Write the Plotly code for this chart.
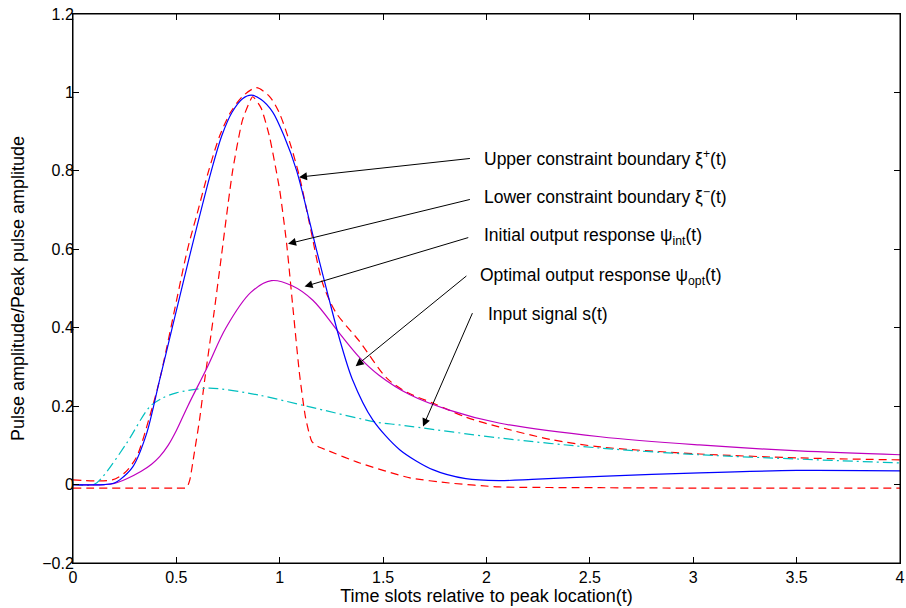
import plotly.graph_objects as go

# ---- data ----
t_opt = [0, 0.15, 0.2, 0.226, 0.289, 0.356, 0.419, 0.48, 0.572, 0.669, 0.72, 0.77, 0.82, 0.862, 0.91, 0.966, 1.02, 1.082, 1.177, 1.235, 1.29, 1.35, 1.45, 1.58, 1.74, 1.9, 2.06, 2.22, 2.55, 3.03, 3.5, 4.0]
y_opt = [0, 0.0, 0.004, 0.012, 0.045, 0.13, 0.267, 0.40, 0.60, 0.80, 0.89, 0.95, 0.984, 0.993, 0.982, 0.95, 0.89, 0.80, 0.60, 0.48, 0.37, 0.27, 0.165, 0.089, 0.038, 0.015, 0.010, 0.013, 0.021, 0.030, 0.036, 0.035]

t_int = [0, 0.15, 0.2, 0.26, 0.33, 0.38, 0.42, 0.46, 0.50, 0.555, 0.65, 0.74, 0.86, 0.96, 1.06, 1.16, 1.29, 1.39, 1.48, 1.63, 1.82, 2.06, 2.55, 3.03, 3.51, 4.0]
y_int = [0, 0.0, 0.003, 0.015, 0.034, 0.052, 0.072, 0.10, 0.138, 0.20, 0.30, 0.40, 0.49, 0.52, 0.507, 0.47, 0.385, 0.322, 0.279, 0.229, 0.19, 0.157, 0.122, 0.101, 0.086, 0.076]

t_in = [0, 0.1, 0.144, 0.26, 0.37, 0.43, 0.50, 0.66, 0.90, 1.13, 1.47, 1.58, 2.06, 2.55, 3.03, 3.51, 4.0]
y_in = [0, 0.0, 0.02, 0.106, 0.198, 0.22, 0.234, 0.246, 0.228, 0.20, 0.159, 0.152, 0.119, 0.093, 0.076, 0.065, 0.055]

t_up = [0, 0.19, 0.25, 0.307, 0.37, 0.419, 0.554, 0.60, 0.656, 0.71, 0.763, 0.82, 0.887, 0.95, 0.996, 1.05, 1.096, 1.15, 1.207, 1.27, 1.386, 1.52, 1.62, 1.74, 1.90, 2.06, 2.31, 2.55, 3.03, 3.51, 4.0]
y_up = [0.012, 0.012, 0.03, 0.07, 0.172, 0.267, 0.60, 0.69, 0.80, 0.89, 0.95, 0.99, 1.012, 0.99, 0.95, 0.87, 0.784, 0.65, 0.514, 0.44, 0.365, 0.27, 0.234, 0.208, 0.172, 0.147, 0.115, 0.096, 0.078, 0.068, 0.063]

t_lo = [0, 0.5, 0.55, 0.565, 0.585, 0.612, 0.637, 0.68, 0.714, 0.772, 0.82, 0.869, 0.91, 0.951, 1.0, 1.033, 1.062, 1.096, 1.125, 1.155, 1.185, 1.226, 1.387, 1.63, 1.82, 2.06, 2.55, 3.0, 4.0]
y_lo = [-0.009, -0.009, -0.008, 0.012, 0.075, 0.165, 0.267, 0.43, 0.567, 0.80, 0.93, 0.989, 0.96, 0.886, 0.75, 0.616, 0.46, 0.28, 0.17, 0.11, 0.097, 0.088, 0.055, 0.017, 0.004, -0.006, -0.008, -0.009, -0.009]

# annotation labels and anchors (data coordinates)
ann_text = ["Upper constraint boundary ξ<sup>+</sup>(t)",
            "Lower constraint boundary ξ<sup>−</sup>(t)",
            "Initial output response ψ<sub>int</sub>(t)",
            "Optimal output response ψ<sub>opt</sub>(t)",
            "Input signal s(t)"]
ann_text_x = [1.977, 1.977, 1.977, 1.958, 1.999]
ann_text_y = [0.833, 0.735, 0.632, 0.53, 0.435]
arrow_tail_x = [1.927, 1.927, 1.919, 1.910, 1.935]
arrow_tail_y = [0.832, 0.728, 0.631, 0.535, 0.441]
arrow_tip_x = [1.093, 1.040, 1.120, 1.367, 1.693]
arrow_tip_y = [0.784, 0.614, 0.505, 0.302, 0.148]

FONT = "Liberation Sans, Arial, Helvetica, sans-serif"

fig = go.Figure()
fig.add_trace(go.Scatter(x=t_up, y=y_up, mode="lines", name="Upper constraint",
                         line=dict(color="#ff0000", width=1.2, dash="8px,5px", shape="spline", smoothing=0.8)))
fig.add_trace(go.Scatter(x=t_lo, y=y_lo, mode="lines", name="Lower constraint",
                         line=dict(color="#ff0000", width=1.2, dash="8px,5px", shape="spline", smoothing=0.5)))
fig.add_trace(go.Scatter(x=t_in, y=y_in, mode="lines", name="Input signal",
                         line=dict(color="#00bfbf", width=1.2, dash="10px,4px,2px,4px", shape="spline", smoothing=0.8)))
fig.add_trace(go.Scatter(x=t_int, y=y_int, mode="lines", name="Initial output",
                         line=dict(color="#bf00bf", width=1.2, shape="spline", smoothing=1.0)))
fig.add_trace(go.Scatter(x=t_opt, y=y_opt, mode="lines", name="Optimal output",
                         line=dict(color="#0000ff", width=1.2, shape="spline", smoothing=0.8)))

annotations = []
for i in range(len(ann_text)):
    annotations.append(dict(x=arrow_tip_x[i], y=arrow_tip_y[i], xref="x", yref="y",
                            ax=arrow_tail_x[i], ay=arrow_tail_y[i], axref="x", ayref="y",
                            text="", showarrow=True, arrowhead=2, arrowsize=1.6,
                            arrowwidth=1, arrowcolor="black"))
    annotations.append(dict(x=ann_text_x[i], y=ann_text_y[i], xref="x", yref="y",
                            text=ann_text[i], showarrow=False, xanchor="left", yanchor="middle",
                            font=dict(family=FONT, size=17.5, color="black")))

fig.update_layout(
    width=906, height=608,
    margin=dict(l=73, r=6, t=14, b=45),
    paper_bgcolor="white", plot_bgcolor="white",
    showlegend=False,
    font=dict(family=FONT, size=16, color="black"),
    annotations=annotations,
    shapes=[dict(type="rect", xref="paper", yref="paper", x0=0, x1=1, y0=0, y1=1,
                 line=dict(color="black", width=1), fillcolor="rgba(0,0,0,0)", layer="above")],
)
fig.update_xaxes(range=[0, 4], tickvals=[0, 0.5, 1, 1.5, 2, 2.5, 3, 3.5, 4],
                 ticktext=["0", "0.5", "1", "1.5", "2", "2.5", "3", "3.5", "4"],
                 ticks="inside", ticklen=6, tickcolor="black", showline=True, linecolor="black",
                 linewidth=1, mirror="ticks", showgrid=False, zeroline=False, automargin=False,
                 ticklabeloverflow="allow",
                 title=dict(text="Time slots relative to peak location(t)", font=dict(size=18), standoff=4))
fig.update_yaxes(range=[-0.2, 1.2], tickvals=[-0.2, 0, 0.2, 0.4, 0.6, 0.8, 1, 1.2],
                 ticktext=["−0.2", "0", "0.2", "0.4", "0.6", "0.8", "1", "1.2"],
                 ticks="inside", ticklen=6, tickcolor="black", showline=True, linecolor="black",
                 linewidth=1, mirror="ticks", showgrid=False, zeroline=False, automargin=False,
                 ticklabeloverflow="allow", ticklabelstandoff=-5,
                 title=dict(text="Pulse amplitude/Peak pulse amplitude", font=dict(size=18), standoff=12))

# remove the default 8px page margin so the figure fills the 906x608 window exactly
fig.write_html("out.html", config={"displayModeBar": False},
               post_script="document.body.style.margin='0';document.body.style.overflow='hidden';")
